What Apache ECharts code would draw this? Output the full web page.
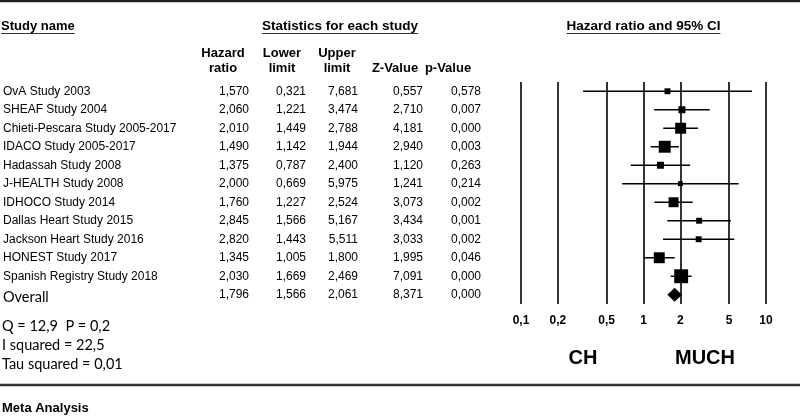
<!DOCTYPE html>
<html>
<head>
<meta charset="utf-8">
<script src="https://cdn.jsdelivr.net/npm/echarts@6/dist/echarts.min.js"></script>
<style>
html,body{margin:0;padding:0;background:#fff;}
#chart{width:800px;height:419px;}
</style>
</head>
<body>
<div id="chart"></div>
<script>
// ---------- data ----------
const studyNames = [
  'OvA Study 2003', 'SHEAF Study 2004', 'Chieti-Pescara Study 2005-2017',
  'IDACO Study 2005-2017', 'Hadassah Study 2008', 'J-HEALTH Study 2008',
  'IDHOCO Study 2014', 'Dallas Heart Study 2015', 'Jackson Heart Study 2016',
  'HONEST Study 2017', 'Spanish Registry Study 2018', 'Overall'
];
const hazardRatio = [1.570, 2.060, 2.010, 1.490, 1.375, 2.000, 1.760, 2.845, 2.820, 1.345, 2.030, 1.796];
const lowerLimit  = [0.321, 1.221, 1.449, 1.142, 0.787, 0.669, 1.227, 1.566, 1.443, 1.005, 1.669, 1.566];
const upperLimit  = [7.681, 3.474, 2.788, 1.944, 2.400, 5.975, 2.524, 5.167, 5.511, 1.800, 2.469, 2.061];
const zValue      = [0.557, 2.710, 4.181, 2.940, 1.120, 1.241, 3.073, 3.434, 3.033, 1.995, 7.091, 8.371];
const pValue      = [0.578, 0.007, 0.000, 0.003, 0.263, 0.214, 0.002, 0.001, 0.002, 0.046, 0.000, 0.000];
// relative study weights (%)
const studyWeight = [3.9, 5.4, 13.3, 15.8, 5.4, 2.7, 11.0, 3.9, 3.9, 13.3, 21.5];
const xTickValues = [0.1, 0.2, 0.5, 1, 2, 5, 10];
const heterogeneity = ['Q = 12,9  P = 0,2', 'I squared = 22,5', 'Tau squared = 0,01'];
const sideLabels = ['CH', 'MUCH'];

// ---------- helpers ----------
const FF = '"Liberation Sans", Arial, sans-serif';
const fmt = v => v.toFixed(3).replace('.', ',');
const nStudies = studyWeight.length;
const overallIdx = studyNames.length - 1;
const GRID_LEFT = 520;

function textWidth(txt, font) {
  const c = document.createElement('canvas').getContext('2d');
  c.font = font;
  return c.measureText(txt).width;
}

function colAxis(values, rightEdge) {
  return {
    type: 'category', gridIndex: 0, inverse: true, position: 'left',
    data: values.map(fmt), offset: GRID_LEFT - rightEdge,
    axisLine: { show: false }, axisTick: { show: false }, splitLine: { show: false },
    axisLabel: { interval: 0, margin: 0, align: 'right', fontFamily: FF, fontSize: 12, color: '#000' }
  };
}

const chart = echarts.init(document.getElementById('chart'), null, { renderer: 'canvas' });

// header texts
const graphics = [];
function addText(txt, x, y, opt) {
  graphics.push({
    type: 'text', x: x, y: y, silent: true,
    style: Object.assign({ text: txt, fill: '#000', fontFamily: FF, fontSize: 12,
      textAlign: 'left', textVerticalAlign: 'middle' }, opt || {})
  });
}
function addUnderlined(txt, x, y, align, size) {
  const w = textWidth(txt, 'bold ' + size + 'px ' + FF);
  addText(txt, x, y, { fontWeight: 'bold', fontSize: size, textAlign: align });
  const x0 = align === 'center' ? x - w / 2 : x;
  graphics.push({ type: 'line', silent: true,
    shape: { x1: x0, y1: y + 7, x2: x0 + w, y2: y + 7 },
    style: { stroke: '#333', lineWidth: 1.2 } });
}
addUnderlined('Study name', 1, 26.5, 'left', 13);
addUnderlined('Statistics for each study', 340, 26.5, 'center', 13.5);
addUnderlined('Hazard ratio and 95% CI', 643.5, 26.5, 'center', 13.5);

const colHeaders = [
  ['Hazard', 'ratio', 223], ['Lower', 'limit', 282], ['Upper', 'limit', 337],
  [null, 'Z-Value', 395], [null, 'p-Value', 448]
];
colHeaders.forEach(h => {
  if (h[0]) addText(h[0], h[2], 53, { fontWeight: 'bold', fontSize: 13, textAlign: 'center' });
  addText(h[1], h[2], 68, { fontWeight: 'bold', fontSize: 13, textAlign: 'center' });
});

heterogeneity.forEach((t, i) => addText(t, 2, 326 + i * 19, { fontFamily: 'Lato, "Open Sans", sans-serif', fontSize: 14.5 }));
addText(sideLabels[0], 583, 358, { fontWeight: 'bold', fontSize: 20, textAlign: 'center' });
addText(sideLabels[1], 705, 358, { fontWeight: 'bold', fontSize: 20, textAlign: 'center' });
addText('Meta Analysis', 2, 408, { fontWeight: 'bold', fontSize: 13 });

// frame lines
graphics.push({ type: 'line', silent: true, shape: { x1: 0, y1: 1, x2: 800, y2: 1 }, style: { stroke: '#222', lineWidth: 2.5 } });
graphics.push({ type: 'line', silent: true, shape: { x1: 0, y1: 385, x2: 800, y2: 385 }, style: { stroke: '#333', lineWidth: 2.5 } });

const option = {
  animation: false,
  backgroundColor: '#fff',
  grid: { left: GRID_LEFT, width: 246, top: 82, height: 222, containLabel: false },
  xAxis: {
    type: 'log', logBase: 10, min: 0.1, max: 10,
    axisLine: { show: false }, axisTick: { show: false }, splitLine: { show: false },
    axisLabel: {
      customValues: xTickValues, margin: 11,
      formatter: v => String(+(+v).toPrecision(6)).replace('.', ','),
      fontFamily: FF, fontSize: 12, fontWeight: 'bold', color: '#000'
    }
  },
  yAxis: [
    {
      type: 'category', inverse: true, position: 'left', data: studyNames, offset: 0,
      axisLine: { show: false }, axisTick: { show: false }, splitLine: { show: false },
      axisLabel: {
        interval: 0, margin: GRID_LEFT - 2, align: 'left', fontFamily: FF, fontSize: 12, color: '#000',
        formatter: v => v === 'Overall' ? '{ov|' + v + '}' : v,
        rich: { ov: { fontFamily: 'Lato, "Open Sans", sans-serif', fontSize: 14.5, color: '#000', padding: [5, 0, 0, 0] } }
      }
    },
    colAxis(hazardRatio, 248),
    colAxis(lowerLimit, 305),
    colAxis(upperLimit, 357),
    colAxis(zValue, 422),
    colAxis(pValue, 480)
  ],
  graphic: graphics,
  series: [
    {
      type: 'line', data: [], z: 1, silent: true,
      markLine: {
        silent: true, symbol: ['none', 'none'], animation: false,
        label: { show: false },
        lineStyle: { color: '#000', width: 1.6, type: 'solid' },
        emphasis: { disabled: true },
        data: xTickValues.map(v => ({ xAxis: v }))
      }
    },
    {
      type: 'custom', z: 2, silent: true,
      data: lowerLimit.slice(0, nStudies).map((l, i) => [l, upperLimit[i], i]),
      encode: { x: [0, 1], y: 2 },
      renderItem: (params, api) => {
        const p1 = api.coord([api.value(0), api.value(2)]);
        const p2 = api.coord([api.value(1), api.value(2)]);
        return { type: 'line', shape: { x1: p1[0], y1: p1[1], x2: p2[0], y2: p2[1] },
          style: { stroke: '#000', lineWidth: 1.5 } };
      }
    },
    {
      type: 'scatter', z: 3, silent: true, symbol: 'rect',
      data: hazardRatio.slice(0, nStudies).map((h, i) => [h, i, studyWeight[i]]),
      symbolSize: val => 3 * Math.sqrt(val[2]),
      itemStyle: { color: '#000', opacity: 1 }
    },
    {
      type: 'custom', z: 3, silent: true,
      data: [[lowerLimit[overallIdx], hazardRatio[overallIdx], upperLimit[overallIdx], overallIdx]],
      encode: { x: [0, 1, 2], y: 3 },
      renderItem: (params, api) => {
        const a = api.coord([api.value(0), api.value(3)]);
        const c = api.coord([api.value(1), api.value(3)]);
        const b = api.coord([api.value(2), api.value(3)]);
        const h = 7;
        return { type: 'polygon',
          shape: { points: [[a[0], a[1]], [c[0], c[1] - h], [b[0], b[1]], [c[0], c[1] + h]] },
          style: { fill: '#000' } };
      }
    }
  ]
};
chart.setOption(option);
</script>
</body>
</html>
